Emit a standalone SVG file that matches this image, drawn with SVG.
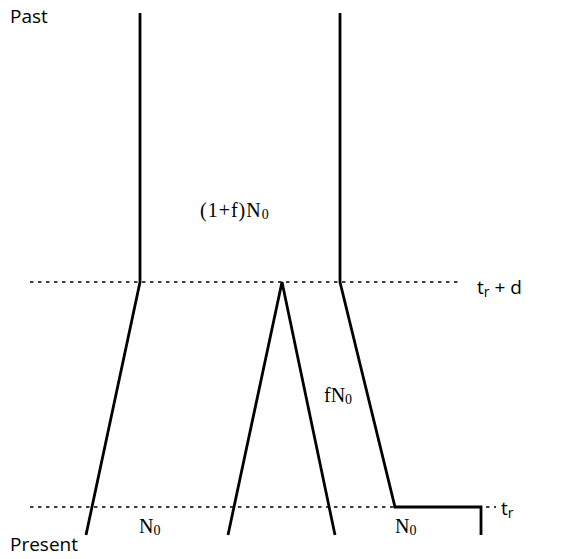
<svg xmlns="http://www.w3.org/2000/svg" width="562" height="559" viewBox="0 0 562 559">
<style>
.ln{fill:none;stroke:#000;stroke-width:2.8;stroke-linejoin:miter}
.dt{fill:none;stroke:#000;stroke-width:1.3;stroke-dasharray:3.5 4.5}
.sans{font-family:"Open Sans","DejaVu Sans",sans-serif;font-size:19px;fill:#000}
.serif{font-family:"Liberation Serif",serif;font-size:20px;fill:#000}
.sub{font-size:14px}
</style>
<rect width="562" height="559" fill="#fff"/>
<g id="connectors">
<line class="dt" x1="30" y1="282" x2="462" y2="282"/>
<line class="dt" x1="30" y1="507" x2="496" y2="507"/>
<polyline class="ln" points="140,13 140,282 86,535"/>
<polyline class="ln" points="340,13 340,282 395,507 481,507 481,535"/>
<polyline class="ln" points="228,535 282,282 335,535"/>
</g>
<g id="past"><text class="sans" x="10" y="23">Past</text></g>
<g id="present"><text class="sans" x="10" y="551">Present</text></g>
<g id="ancestral"><text class="serif" x="200" y="217" letter-spacing="1">(1+f)N<tspan class="sub" dy="2" letter-spacing="0">0</tspan></text></g>
<g id="trd"><text class="sans" x="477" y="294">t<tspan class="sub" dy="3">r</tspan><tspan dy="-3"> + d</tspan></text></g>
<g id="fN0"><text class="serif" x="324" y="402">fN<tspan class="sub" dy="2">0</tspan></text></g>
<g id="N0a"><text class="serif" x="139" y="533">N<tspan class="sub" dy="2">0</tspan></text></g>
<g id="N0b"><text class="serif" x="395" y="533">N<tspan class="sub" dy="2">0</tspan></text></g>
<g id="tr"><text class="sans" x="501" y="515">t<tspan class="sub" dy="3">r</tspan></text></g>
</svg>
